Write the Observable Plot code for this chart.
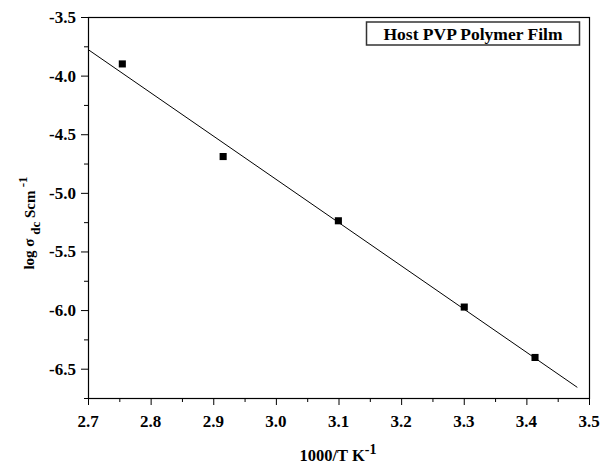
<!DOCTYPE html>
<html><head><meta charset="utf-8">
<script src="https://cdn.jsdelivr.net/npm/d3@7"></script>
<script src="https://cdn.jsdelivr.net/npm/@observablehq/plot@0.6"></script>
<style>
body{margin:0;background:#fff;} svg{display:block;}
</style>
</head><body><div id="chart"></div>
<script>
// Data
const invT = [2.754, 2.915, 3.099, 3.300, 3.413];          // 1000/T (K^-1)
const logSigma = [-3.896, -4.686, -5.234, -5.970, -6.400]; // log sigma_dc
const fitRange = [2.7, 3.48];                               // extent of fitted line
const xTicks = [2.7, 2.8, 2.9, 3.0, 3.1, 3.2, 3.3, 3.4, 3.5];
const xMinor = [2.75, 2.85, 2.95, 3.05, 3.15, 3.25, 3.35, 3.45];
const yTicks = [-6.5, -6.0, -5.5, -5.0, -4.5, -4.0, -3.5];
const yMinor = [-6.75, -6.25, -5.75, -5.25, -4.75, -4.25, -3.75];
const legendLabel = "Host PVP Polymer Film";

const points = invT.map((x, i) => ({x, y: logSigma[i]}));
const mx = d3.mean(invT), my = d3.mean(logSigma);
const slope = d3.sum(points, d => (d.x - mx) * (d.y - my)) / d3.sum(points, d => (d.x - mx) ** 2);
const intercept = my - slope * mx;
const fitLine = fitRange.map(x => ({x, y: intercept + slope * x}));

const fmt = d => d.toFixed(1);
const font = "Liberation Serif";
const chart = Plot.plot({
  width: 602, height: 464,
  marginLeft: 88, marginRight: 13, marginTop: 17, marginBottom: 66,
  x: {domain: [2.7, 3.5]},
  y: {domain: [-6.75, -3.5]},
  marks: [
    Plot.axisX({ticks: xTicks, tickSize: 7, tickFormat: () => "", label: null}),
    Plot.axisX({ticks: xMinor, tickSize: 4, tickFormat: () => "", label: null}),
    Plot.axisY({ticks: yTicks, tickSize: 7, tickFormat: () => "", label: null}),
    Plot.axisY({ticks: yMinor, tickSize: 4, tickFormat: () => "", label: null}),
    Plot.frame({stroke: "black", strokeWidth: 1.2}),
    Plot.line(fitLine, {x: "x", y: "y", stroke: "black", strokeWidth: 1}),
    Plot.dot(points, {x: "x", y: "y", symbol: "square", r: 4, fill: "black", stroke: "none"})
  ]
});
document.getElementById("chart").append(chart);

const svg = d3.select(chart);
const sx = chart.scale("x"), sy = chart.scale("y");

function label(x, y, anchor, str) {
  return svg.append("text").attr("x", x).attr("y", y).attr("text-anchor", anchor)
    .attr("font-family", font).attr("font-weight", "bold").attr("font-size", 17)
    .attr("fill", "black")
    .style("font-family", font).style("font-weight", "bold").style("font-size", "17px")
    .text(str);
}
// tick labels positioned through Plot's scales
xTicks.forEach(v => label(sx.apply(v), 427, "middle", fmt(v)));
yTicks.forEach(v => label(76, sy.apply(v) + 6, "end", fmt(v)));

// legend box
const lg = svg.append("g");
lg.append("rect").attr("x", 366.5).attr("y", 22).attr("width", 213).attr("height", 23)
  .attr("fill", "white").attr("stroke", "#333").attr("stroke-width", 1.5);
lg.append("text").attr("x", 473).attr("y", 39.5).attr("text-anchor", "middle")
  .attr("font-family", font).attr("font-weight", "bold").attr("font-size", 17.5)
  .text(legendLabel);

// x axis title
const xt = svg.append("text").attr("x", 338).attr("y", 461).attr("text-anchor", "middle")
  .attr("font-family", font).attr("font-weight", "bold").attr("font-size", 16.5);
xt.append("tspan").text("1000/T K");
xt.append("tspan").attr("dy", -7).attr("font-size", 14).text("-1");

// y axis title
const yt = svg.append("text").attr("transform", "translate(34,223) rotate(-90)")
  .attr("text-anchor", "middle")
  .attr("font-family", font).attr("font-weight", "bold").attr("font-size", 15);
yt.append("tspan").text("log σ ");
yt.append("tspan").attr("dy", 6).attr("font-size", 13).text("dc");
yt.append("tspan").attr("dy", -5).text(" Scm");
yt.append("tspan").attr("dy", -8).attr("font-size", 13).text(" -1");
</script>
</body></html>
